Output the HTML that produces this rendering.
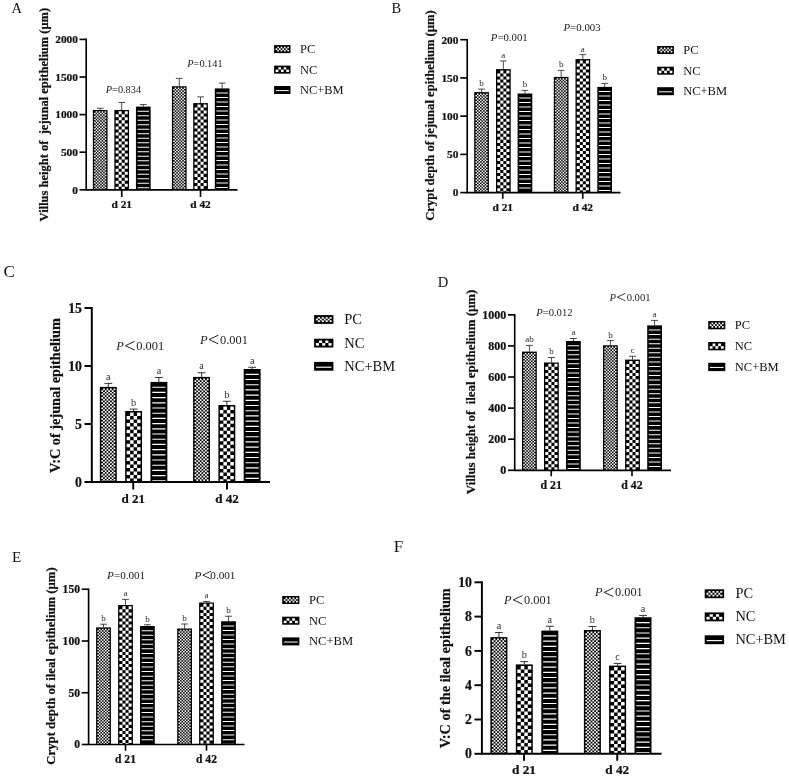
<!DOCTYPE html>
<html><head><meta charset="utf-8"><title>Figure</title>
<style>
html,body{margin:0;padding:0;background:#fff;}
body{width:789px;height:776px;overflow:hidden;font-family:"Liberation Serif",serif;}
svg text[font-weight=bold]{stroke:#111;stroke-width:0.22px;}
svg{display:block;will-change:transform;font-family:"Liberation Serif",serif;fill:#111;}
</style></head>
<body>
<svg width="789" height="776" viewBox="0 0 789 776">
<rect width="789" height="776" fill="#fff"/>
<g id="pA">
<text x="11.4" y="12.8" font-size="14.6">A</text>
<path d="M100.2 110V108.25M96.8 108.25H103.6" stroke="#222" stroke-width="0.8" fill="none"/>
<rect x="92.85" y="110" width="14.7" height="79.8" fill="#000"/><path d="M94.91 111.3V189.8" stroke="#fff" stroke-width="1.51" stroke-dasharray="1.51 1.51" stroke-dashoffset="1.51" fill="none"/><path d="M96.42 111.3V189.8" stroke="#fff" stroke-width="1.51" stroke-dasharray="1.51 1.51" stroke-dashoffset="0" fill="none"/><path d="M97.93 111.3V189.8" stroke="#fff" stroke-width="1.51" stroke-dasharray="1.51 1.51" stroke-dashoffset="1.51" fill="none"/><path d="M99.44 111.3V189.8" stroke="#fff" stroke-width="1.51" stroke-dasharray="1.51 1.51" stroke-dashoffset="0" fill="none"/><path d="M100.96 111.3V189.8" stroke="#fff" stroke-width="1.51" stroke-dasharray="1.51 1.51" stroke-dashoffset="1.51" fill="none"/><path d="M102.47 111.3V189.8" stroke="#fff" stroke-width="1.51" stroke-dasharray="1.51 1.51" stroke-dashoffset="0" fill="none"/><path d="M103.98 111.3V189.8" stroke="#fff" stroke-width="1.51" stroke-dasharray="1.51 1.51" stroke-dashoffset="1.51" fill="none"/><path d="M105.49 111.3V189.8" stroke="#fff" stroke-width="1.51" stroke-dasharray="1.51 1.51" stroke-dashoffset="0" fill="none"/>
<path d="M121.7 110V102.5M118.3 102.5H125.1" stroke="#222" stroke-width="0.8" fill="none"/>
<rect x="114.35" y="110" width="14.7" height="79.8" fill="#000"/><path d="M117.16 111.3V189.8" stroke="#fff" stroke-width="3.02" stroke-dasharray="3.02 3.02" stroke-dashoffset="3.02" fill="none"/><path d="M120.19 111.3V189.8" stroke="#fff" stroke-width="3.02" stroke-dasharray="3.02 3.02" stroke-dashoffset="0" fill="none"/><path d="M123.21 111.3V189.8" stroke="#fff" stroke-width="3.02" stroke-dasharray="3.02 3.02" stroke-dashoffset="3.02" fill="none"/><path d="M126.24 111.3V189.8" stroke="#fff" stroke-width="3.02" stroke-dasharray="3.02 3.02" stroke-dashoffset="0" fill="none"/>
<path d="M143.3 106.6V104.5M139.9 104.5H146.7" stroke="#222" stroke-width="0.8" fill="none"/>
<rect x="135.95" y="106.6" width="14.7" height="83.2" fill="#000"/><path d="M143.3 110.7V189.8" stroke="#fff" stroke-width="11.5" stroke-dasharray="1 3.5" stroke-dashoffset="0" fill="none"/>
<path d="M179.25 86.25V78.4M175.85 78.4H182.65" stroke="#222" stroke-width="0.8" fill="none"/>
<rect x="171.9" y="86.25" width="14.7" height="103.55" fill="#000"/><path d="M173.96 87.55V189.8" stroke="#fff" stroke-width="1.51" stroke-dasharray="1.51 1.51" stroke-dashoffset="1.51" fill="none"/><path d="M175.47 87.55V189.8" stroke="#fff" stroke-width="1.51" stroke-dasharray="1.51 1.51" stroke-dashoffset="0" fill="none"/><path d="M176.98 87.55V189.8" stroke="#fff" stroke-width="1.51" stroke-dasharray="1.51 1.51" stroke-dashoffset="1.51" fill="none"/><path d="M178.49 87.55V189.8" stroke="#fff" stroke-width="1.51" stroke-dasharray="1.51 1.51" stroke-dashoffset="0" fill="none"/><path d="M180.01 87.55V189.8" stroke="#fff" stroke-width="1.51" stroke-dasharray="1.51 1.51" stroke-dashoffset="1.51" fill="none"/><path d="M181.52 87.55V189.8" stroke="#fff" stroke-width="1.51" stroke-dasharray="1.51 1.51" stroke-dashoffset="0" fill="none"/><path d="M183.03 87.55V189.8" stroke="#fff" stroke-width="1.51" stroke-dasharray="1.51 1.51" stroke-dashoffset="1.51" fill="none"/><path d="M184.54 87.55V189.8" stroke="#fff" stroke-width="1.51" stroke-dasharray="1.51 1.51" stroke-dashoffset="0" fill="none"/>
<path d="M200.55 103.1V96.9M197.15 96.9H203.95" stroke="#222" stroke-width="0.8" fill="none"/>
<rect x="193.2" y="103.1" width="14.7" height="86.7" fill="#000"/><path d="M196.01 104.4V189.8" stroke="#fff" stroke-width="3.02" stroke-dasharray="3.02 3.02" stroke-dashoffset="3.02" fill="none"/><path d="M199.04 104.4V189.8" stroke="#fff" stroke-width="3.02" stroke-dasharray="3.02 3.02" stroke-dashoffset="0" fill="none"/><path d="M202.06 104.4V189.8" stroke="#fff" stroke-width="3.02" stroke-dasharray="3.02 3.02" stroke-dashoffset="3.02" fill="none"/><path d="M205.09 104.4V189.8" stroke="#fff" stroke-width="3.02" stroke-dasharray="3.02 3.02" stroke-dashoffset="0" fill="none"/>
<path d="M222.15 88.4V83.1M218.75 83.1H225.55" stroke="#222" stroke-width="0.8" fill="none"/>
<rect x="214.8" y="88.4" width="14.7" height="101.4" fill="#000"/><path d="M222.15 92.5V189.8" stroke="#fff" stroke-width="11.5" stroke-dasharray="1 3.5" stroke-dashoffset="0" fill="none"/>
<path d="M86.2 38.57V189.8H237.5" stroke="#000" stroke-width="1.65" fill="none"/>
<path d="M79.5 189.8H86.2" stroke="#000" stroke-width="1.65"/>
<text x="78" y="193.62" font-size="11.4" font-weight="bold" text-anchor="end">0</text>
<path d="M79.5 152.2H86.2" stroke="#000" stroke-width="1.65"/>
<text x="78" y="156.02" font-size="11.4" font-weight="bold" text-anchor="end">500</text>
<path d="M79.5 114.6H86.2" stroke="#000" stroke-width="1.65"/>
<text x="78" y="118.42" font-size="11.4" font-weight="bold" text-anchor="end">1000</text>
<path d="M79.5 77H86.2" stroke="#000" stroke-width="1.65"/>
<text x="78" y="80.82" font-size="11.4" font-weight="bold" text-anchor="end">1500</text>
<path d="M79.5 39.4H86.2" stroke="#000" stroke-width="1.65"/>
<text x="78" y="43.22" font-size="11.4" font-weight="bold" text-anchor="end">2000</text>
<path d="M121.75 189.8V197" stroke="#000" stroke-width="1.65"/>
<text x="121.75" y="208.3" font-size="11.4" font-weight="bold" text-anchor="middle">d 21</text>
<path d="M200.5 189.8V197" stroke="#000" stroke-width="1.65"/>
<text x="200.5" y="208.3" font-size="11.4" font-weight="bold" text-anchor="middle">d 42</text>
<text transform="translate(47.8 114.6) rotate(-90)" font-size="12.5" font-weight="bold" text-anchor="middle">Villus height of  jejunal epithelium (μm)</text>
<text x="105.8" y="92.8" font-size="10.3" fill="#222"><tspan font-style="italic">P</tspan>=0.834</text>
<text x="187.3" y="67.3" font-size="10.3" fill="#222"><tspan font-style="italic">P</tspan>=0.141</text>
<rect x="274.1" y="45.1" width="16.4" height="8" fill="#000"/><path d="M276.48 46.65V51.55" stroke="#fff" stroke-width="1.66" stroke-dasharray="1.63 1.63" stroke-dashoffset="1.63" fill="none"/><path d="M278.14 46.65V51.55" stroke="#fff" stroke-width="1.66" stroke-dasharray="1.63 1.63" stroke-dashoffset="0" fill="none"/><path d="M279.81 46.65V51.55" stroke="#fff" stroke-width="1.66" stroke-dasharray="1.63 1.63" stroke-dashoffset="1.63" fill="none"/><path d="M281.47 46.65V51.55" stroke="#fff" stroke-width="1.66" stroke-dasharray="1.63 1.63" stroke-dashoffset="0" fill="none"/><path d="M283.13 46.65V51.55" stroke="#fff" stroke-width="1.66" stroke-dasharray="1.63 1.63" stroke-dashoffset="1.63" fill="none"/><path d="M284.79 46.65V51.55" stroke="#fff" stroke-width="1.66" stroke-dasharray="1.63 1.63" stroke-dashoffset="0" fill="none"/><path d="M286.46 46.65V51.55" stroke="#fff" stroke-width="1.66" stroke-dasharray="1.63 1.63" stroke-dashoffset="1.63" fill="none"/><path d="M288.12 46.65V51.55" stroke="#fff" stroke-width="1.66" stroke-dasharray="1.63 1.63" stroke-dashoffset="0" fill="none"/>
<text x="300" y="53.1" font-size="12.4">PC</text>
<rect x="274.1" y="65.6" width="16.4" height="8" fill="#000"/><path d="M276.98 67.15V72.05" stroke="#fff" stroke-width="2.66" stroke-dasharray="2.45 2.45" stroke-dashoffset="2.45" fill="none"/><path d="M279.64 67.15V72.05" stroke="#fff" stroke-width="2.66" stroke-dasharray="2.45 2.45" stroke-dashoffset="0" fill="none"/><path d="M282.3 67.15V72.05" stroke="#fff" stroke-width="2.66" stroke-dasharray="2.45 2.45" stroke-dashoffset="2.45" fill="none"/><path d="M284.96 67.15V72.05" stroke="#fff" stroke-width="2.66" stroke-dasharray="2.45 2.45" stroke-dashoffset="0" fill="none"/><path d="M287.62 67.15V72.05" stroke="#fff" stroke-width="2.66" stroke-dasharray="2.45 2.45" stroke-dashoffset="2.45" fill="none"/>
<text x="300" y="73.5" font-size="12.4">NC</text>
<rect x="274.1" y="86" width="16.4" height="8" fill="#000"/><path d="M282.3 90.1V92.45" stroke="#fff" stroke-width="13" stroke-dasharray="1 3.5" stroke-dashoffset="0" fill="none"/>
<text x="300" y="93.6" font-size="12.4">NC+BM</text>
</g>
<g id="pB">
<text x="391.6" y="12.9" font-size="14.5">B</text>
<path d="M481.55 92.1V89.1M478.15 89.1H484.95" stroke="#222" stroke-width="0.8" fill="none"/>
<rect x="474.2" y="92.1" width="14.7" height="100.5" fill="#000"/><path d="M476.26 93.4V192.6" stroke="#fff" stroke-width="1.51" stroke-dasharray="1.51 1.51" stroke-dashoffset="1.51" fill="none"/><path d="M477.77 93.4V192.6" stroke="#fff" stroke-width="1.51" stroke-dasharray="1.51 1.51" stroke-dashoffset="0" fill="none"/><path d="M479.28 93.4V192.6" stroke="#fff" stroke-width="1.51" stroke-dasharray="1.51 1.51" stroke-dashoffset="1.51" fill="none"/><path d="M480.79 93.4V192.6" stroke="#fff" stroke-width="1.51" stroke-dasharray="1.51 1.51" stroke-dashoffset="0" fill="none"/><path d="M482.31 93.4V192.6" stroke="#fff" stroke-width="1.51" stroke-dasharray="1.51 1.51" stroke-dashoffset="1.51" fill="none"/><path d="M483.82 93.4V192.6" stroke="#fff" stroke-width="1.51" stroke-dasharray="1.51 1.51" stroke-dashoffset="0" fill="none"/><path d="M485.33 93.4V192.6" stroke="#fff" stroke-width="1.51" stroke-dasharray="1.51 1.51" stroke-dashoffset="1.51" fill="none"/><path d="M486.84 93.4V192.6" stroke="#fff" stroke-width="1.51" stroke-dasharray="1.51 1.51" stroke-dashoffset="0" fill="none"/>
<text x="481.55" y="86.1" font-size="9" text-anchor="middle" fill="#2a2a2a">b</text>
<path d="M503.35 69.1V61M499.95 61H506.75" stroke="#222" stroke-width="0.8" fill="none"/>
<rect x="496" y="69.1" width="14.7" height="123.5" fill="#000"/><path d="M498.81 70.4V192.6" stroke="#fff" stroke-width="3.02" stroke-dasharray="3.02 3.02" stroke-dashoffset="3.02" fill="none"/><path d="M501.84 70.4V192.6" stroke="#fff" stroke-width="3.02" stroke-dasharray="3.02 3.02" stroke-dashoffset="0" fill="none"/><path d="M504.86 70.4V192.6" stroke="#fff" stroke-width="3.02" stroke-dasharray="3.02 3.02" stroke-dashoffset="3.02" fill="none"/><path d="M507.89 70.4V192.6" stroke="#fff" stroke-width="3.02" stroke-dasharray="3.02 3.02" stroke-dashoffset="0" fill="none"/>
<text x="503.35" y="58" font-size="9" text-anchor="middle" fill="#2a2a2a">a</text>
<path d="M524.95 93.5V90.4M521.55 90.4H528.35" stroke="#222" stroke-width="0.8" fill="none"/>
<rect x="517.6" y="93.5" width="14.7" height="99.1" fill="#000"/><path d="M524.95 97.6V192.6" stroke="#fff" stroke-width="11.5" stroke-dasharray="1 3.5" stroke-dashoffset="0" fill="none"/>
<text x="524.95" y="87.4" font-size="9" text-anchor="middle" fill="#2a2a2a">b</text>
<path d="M561.15 76.9V70.4M557.75 70.4H564.55" stroke="#222" stroke-width="0.8" fill="none"/>
<rect x="553.8" y="76.9" width="14.7" height="115.7" fill="#000"/><path d="M555.86 78.2V192.6" stroke="#fff" stroke-width="1.51" stroke-dasharray="1.51 1.51" stroke-dashoffset="1.51" fill="none"/><path d="M557.37 78.2V192.6" stroke="#fff" stroke-width="1.51" stroke-dasharray="1.51 1.51" stroke-dashoffset="0" fill="none"/><path d="M558.88 78.2V192.6" stroke="#fff" stroke-width="1.51" stroke-dasharray="1.51 1.51" stroke-dashoffset="1.51" fill="none"/><path d="M560.39 78.2V192.6" stroke="#fff" stroke-width="1.51" stroke-dasharray="1.51 1.51" stroke-dashoffset="0" fill="none"/><path d="M561.91 78.2V192.6" stroke="#fff" stroke-width="1.51" stroke-dasharray="1.51 1.51" stroke-dashoffset="1.51" fill="none"/><path d="M563.42 78.2V192.6" stroke="#fff" stroke-width="1.51" stroke-dasharray="1.51 1.51" stroke-dashoffset="0" fill="none"/><path d="M564.93 78.2V192.6" stroke="#fff" stroke-width="1.51" stroke-dasharray="1.51 1.51" stroke-dashoffset="1.51" fill="none"/><path d="M566.44 78.2V192.6" stroke="#fff" stroke-width="1.51" stroke-dasharray="1.51 1.51" stroke-dashoffset="0" fill="none"/>
<text x="561.15" y="67.4" font-size="9" text-anchor="middle" fill="#2a2a2a">b</text>
<path d="M582.85 59.1V54.6M579.45 54.6H586.25" stroke="#222" stroke-width="0.8" fill="none"/>
<rect x="575.5" y="59.1" width="14.7" height="133.5" fill="#000"/><path d="M578.31 60.4V192.6" stroke="#fff" stroke-width="3.02" stroke-dasharray="3.02 3.02" stroke-dashoffset="3.02" fill="none"/><path d="M581.34 60.4V192.6" stroke="#fff" stroke-width="3.02" stroke-dasharray="3.02 3.02" stroke-dashoffset="0" fill="none"/><path d="M584.36 60.4V192.6" stroke="#fff" stroke-width="3.02" stroke-dasharray="3.02 3.02" stroke-dashoffset="3.02" fill="none"/><path d="M587.39 60.4V192.6" stroke="#fff" stroke-width="3.02" stroke-dasharray="3.02 3.02" stroke-dashoffset="0" fill="none"/>
<text x="582.85" y="51.6" font-size="9" text-anchor="middle" fill="#2a2a2a">a</text>
<path d="M604.65 86.9V83.4M601.25 83.4H608.05" stroke="#222" stroke-width="0.8" fill="none"/>
<rect x="597.3" y="86.9" width="14.7" height="105.7" fill="#000"/><path d="M604.65 91V192.6" stroke="#fff" stroke-width="11.5" stroke-dasharray="1 3.5" stroke-dashoffset="0" fill="none"/>
<text x="604.65" y="80.4" font-size="9" text-anchor="middle" fill="#2a2a2a">b</text>
<path d="M467.2 38.88V192.6H620.5" stroke="#000" stroke-width="1.65" fill="none"/>
<path d="M460.25 192.6H467.2" stroke="#000" stroke-width="1.65"/>
<text x="458.5" y="196.42" font-size="11.4" font-weight="bold" text-anchor="end">0</text>
<path d="M460.25 154.38H467.2" stroke="#000" stroke-width="1.65"/>
<text x="458.5" y="158.19" font-size="11.4" font-weight="bold" text-anchor="end">50</text>
<path d="M460.25 116.15H467.2" stroke="#000" stroke-width="1.65"/>
<text x="458.5" y="119.97" font-size="11.4" font-weight="bold" text-anchor="end">100</text>
<path d="M460.25 77.93H467.2" stroke="#000" stroke-width="1.65"/>
<text x="458.5" y="81.74" font-size="11.4" font-weight="bold" text-anchor="end">150</text>
<path d="M460.25 39.7H467.2" stroke="#000" stroke-width="1.65"/>
<text x="458.5" y="43.52" font-size="11.4" font-weight="bold" text-anchor="end">200</text>
<path d="M502.75 192.6V198.75" stroke="#000" stroke-width="1.65"/>
<text x="502.75" y="210.6" font-size="11.4" font-weight="bold" text-anchor="middle">d 21</text>
<path d="M582.75 192.6V198.75" stroke="#000" stroke-width="1.65"/>
<text x="582.75" y="210.6" font-size="11.4" font-weight="bold" text-anchor="middle">d 42</text>
<text transform="translate(433.6 115.6) rotate(-90)" font-size="12.6" font-weight="bold" text-anchor="middle">Crypt depth of jejunal epithelium (μm)</text>
<text x="490.8" y="41.2" font-size="10.75" fill="#222"><tspan font-style="italic">P</tspan>=0.001</text>
<text x="563.6" y="31.2" font-size="10.8" fill="#222"><tspan font-style="italic">P</tspan>=0.003</text>
<rect x="657.2" y="46" width="16.7" height="8" fill="#000"/><path d="M659.6 47.55V52.45" stroke="#fff" stroke-width="1.7" stroke-dasharray="1.63 1.63" stroke-dashoffset="1.63" fill="none"/><path d="M661.3 47.55V52.45" stroke="#fff" stroke-width="1.7" stroke-dasharray="1.63 1.63" stroke-dashoffset="0" fill="none"/><path d="M663 47.55V52.45" stroke="#fff" stroke-width="1.7" stroke-dasharray="1.63 1.63" stroke-dashoffset="1.63" fill="none"/><path d="M664.7 47.55V52.45" stroke="#fff" stroke-width="1.7" stroke-dasharray="1.63 1.63" stroke-dashoffset="0" fill="none"/><path d="M666.4 47.55V52.45" stroke="#fff" stroke-width="1.7" stroke-dasharray="1.63 1.63" stroke-dashoffset="1.63" fill="none"/><path d="M668.1 47.55V52.45" stroke="#fff" stroke-width="1.7" stroke-dasharray="1.63 1.63" stroke-dashoffset="0" fill="none"/><path d="M669.8 47.55V52.45" stroke="#fff" stroke-width="1.7" stroke-dasharray="1.63 1.63" stroke-dashoffset="1.63" fill="none"/><path d="M671.5 47.55V52.45" stroke="#fff" stroke-width="1.7" stroke-dasharray="1.63 1.63" stroke-dashoffset="0" fill="none"/>
<text x="683.2" y="54" font-size="12.5">PC</text>
<rect x="657.2" y="66.7" width="16.7" height="8" fill="#000"/><path d="M660.11 68.25V73.15" stroke="#fff" stroke-width="2.72" stroke-dasharray="2.45 2.45" stroke-dashoffset="2.45" fill="none"/><path d="M662.83 68.25V73.15" stroke="#fff" stroke-width="2.72" stroke-dasharray="2.45 2.45" stroke-dashoffset="0" fill="none"/><path d="M665.55 68.25V73.15" stroke="#fff" stroke-width="2.72" stroke-dasharray="2.45 2.45" stroke-dashoffset="2.45" fill="none"/><path d="M668.27 68.25V73.15" stroke="#fff" stroke-width="2.72" stroke-dasharray="2.45 2.45" stroke-dashoffset="0" fill="none"/><path d="M670.99 68.25V73.15" stroke="#fff" stroke-width="2.72" stroke-dasharray="2.45 2.45" stroke-dashoffset="2.45" fill="none"/>
<text x="683.2" y="74.8" font-size="12.5">NC</text>
<rect x="657.2" y="87.2" width="16.7" height="8" fill="#000"/><path d="M665.55 91.3V93.65" stroke="#fff" stroke-width="13.3" stroke-dasharray="1 3.5" stroke-dashoffset="0" fill="none"/>
<text x="683.2" y="94.9" font-size="12.5">NC+BM</text>
</g>
<g id="pC">
<text x="3.5" y="276.7" font-size="17.2">C</text>
<path d="M108.3 386.9V383.4M104.37 383.4H112.23" stroke="#222" stroke-width="0.92" fill="none"/>
<rect x="99.85" y="386.9" width="16.9" height="95.1" fill="#000"/><path d="M102.22 388.4V482" stroke="#fff" stroke-width="1.74" stroke-dasharray="1.74 1.74" stroke-dashoffset="1.74" fill="none"/><path d="M103.96 388.4V482" stroke="#fff" stroke-width="1.74" stroke-dasharray="1.74 1.74" stroke-dashoffset="0" fill="none"/><path d="M105.69 388.4V482" stroke="#fff" stroke-width="1.74" stroke-dasharray="1.74 1.74" stroke-dashoffset="1.74" fill="none"/><path d="M107.43 388.4V482" stroke="#fff" stroke-width="1.74" stroke-dasharray="1.74 1.74" stroke-dashoffset="0" fill="none"/><path d="M109.17 388.4V482" stroke="#fff" stroke-width="1.74" stroke-dasharray="1.74 1.74" stroke-dashoffset="1.74" fill="none"/><path d="M110.91 388.4V482" stroke="#fff" stroke-width="1.74" stroke-dasharray="1.74 1.74" stroke-dashoffset="0" fill="none"/><path d="M112.64 388.4V482" stroke="#fff" stroke-width="1.74" stroke-dasharray="1.74 1.74" stroke-dashoffset="1.74" fill="none"/><path d="M114.38 388.4V482" stroke="#fff" stroke-width="1.74" stroke-dasharray="1.74 1.74" stroke-dashoffset="0" fill="none"/>
<text x="108.3" y="379.94" font-size="10.2" text-anchor="middle" fill="#2a2a2a">a</text>
<path d="M133.6 411V409.1M129.67 409.1H137.53" stroke="#222" stroke-width="0.92" fill="none"/>
<rect x="125.15" y="411" width="16.9" height="71" fill="#000"/><path d="M128.39 412.5V482" stroke="#fff" stroke-width="3.47" stroke-dasharray="3.47 3.47" stroke-dashoffset="3.47" fill="none"/><path d="M131.86 412.5V482" stroke="#fff" stroke-width="3.47" stroke-dasharray="3.47 3.47" stroke-dashoffset="0" fill="none"/><path d="M135.34 412.5V482" stroke="#fff" stroke-width="3.47" stroke-dasharray="3.47 3.47" stroke-dashoffset="3.47" fill="none"/><path d="M138.81 412.5V482" stroke="#fff" stroke-width="3.47" stroke-dasharray="3.47 3.47" stroke-dashoffset="0" fill="none"/>
<text x="133.6" y="405.64" font-size="10.2" text-anchor="middle" fill="#2a2a2a">b</text>
<path d="M158.9 381.9V377.5M154.97 377.5H162.83" stroke="#222" stroke-width="0.92" fill="none"/>
<rect x="150.45" y="381.9" width="16.9" height="100.1" fill="#000"/><path d="M158.9 386.64V482" stroke="#fff" stroke-width="13.2" stroke-dasharray="1.16 4.04" stroke-dashoffset="0" fill="none"/>
<text x="158.9" y="374.04" font-size="10.2" text-anchor="middle" fill="#2a2a2a">a</text>
<path d="M201.55 376.9V372.75M197.62 372.75H205.48" stroke="#222" stroke-width="0.92" fill="none"/>
<rect x="193.1" y="376.9" width="16.9" height="105.1" fill="#000"/><path d="M195.47 378.4V482" stroke="#fff" stroke-width="1.74" stroke-dasharray="1.74 1.74" stroke-dashoffset="1.74" fill="none"/><path d="M197.21 378.4V482" stroke="#fff" stroke-width="1.74" stroke-dasharray="1.74 1.74" stroke-dashoffset="0" fill="none"/><path d="M198.94 378.4V482" stroke="#fff" stroke-width="1.74" stroke-dasharray="1.74 1.74" stroke-dashoffset="1.74" fill="none"/><path d="M200.68 378.4V482" stroke="#fff" stroke-width="1.74" stroke-dasharray="1.74 1.74" stroke-dashoffset="0" fill="none"/><path d="M202.42 378.4V482" stroke="#fff" stroke-width="1.74" stroke-dasharray="1.74 1.74" stroke-dashoffset="1.74" fill="none"/><path d="M204.16 378.4V482" stroke="#fff" stroke-width="1.74" stroke-dasharray="1.74 1.74" stroke-dashoffset="0" fill="none"/><path d="M205.89 378.4V482" stroke="#fff" stroke-width="1.74" stroke-dasharray="1.74 1.74" stroke-dashoffset="1.74" fill="none"/><path d="M207.63 378.4V482" stroke="#fff" stroke-width="1.74" stroke-dasharray="1.74 1.74" stroke-dashoffset="0" fill="none"/>
<text x="201.55" y="369.29" font-size="10.2" text-anchor="middle" fill="#2a2a2a">a</text>
<path d="M226.85 405V401.25M222.92 401.25H230.78" stroke="#222" stroke-width="0.92" fill="none"/>
<rect x="218.4" y="405" width="16.9" height="77" fill="#000"/><path d="M221.64 406.5V482" stroke="#fff" stroke-width="3.47" stroke-dasharray="3.47 3.47" stroke-dashoffset="3.47" fill="none"/><path d="M225.11 406.5V482" stroke="#fff" stroke-width="3.47" stroke-dasharray="3.47 3.47" stroke-dashoffset="0" fill="none"/><path d="M228.59 406.5V482" stroke="#fff" stroke-width="3.47" stroke-dasharray="3.47 3.47" stroke-dashoffset="3.47" fill="none"/><path d="M232.06 406.5V482" stroke="#fff" stroke-width="3.47" stroke-dasharray="3.47 3.47" stroke-dashoffset="0" fill="none"/>
<text x="226.85" y="397.79" font-size="10.2" text-anchor="middle" fill="#2a2a2a">b</text>
<path d="M252.15 369V367.25M248.22 367.25H256.08" stroke="#222" stroke-width="0.92" fill="none"/>
<rect x="243.7" y="369" width="16.9" height="113" fill="#000"/><path d="M252.15 373.74V482" stroke="#fff" stroke-width="13.2" stroke-dasharray="1.16 4.04" stroke-dashoffset="0" fill="none"/>
<text x="252.15" y="363.79" font-size="10.2" text-anchor="middle" fill="#2a2a2a">a</text>
<path d="M91.8 307.02V482H270" stroke="#000" stroke-width="1.95" fill="none"/>
<path d="M84.5 482H91.8" stroke="#000" stroke-width="1.95"/>
<text x="82" y="486.62" font-size="13.8" font-weight="bold" text-anchor="end">0</text>
<path d="M84.5 424H91.8" stroke="#000" stroke-width="1.95"/>
<text x="82" y="428.62" font-size="13.8" font-weight="bold" text-anchor="end">5</text>
<path d="M84.5 366H91.8" stroke="#000" stroke-width="1.95"/>
<text x="82" y="370.62" font-size="13.8" font-weight="bold" text-anchor="end">10</text>
<path d="M84.5 308H91.8" stroke="#000" stroke-width="1.95"/>
<text x="82" y="312.62" font-size="13.8" font-weight="bold" text-anchor="end">15</text>
<path d="M133.25 482V489.5" stroke="#000" stroke-width="1.95"/>
<text x="133.25" y="503" font-size="13.1" font-weight="bold" text-anchor="middle">d 21</text>
<path d="M227 482V489.5" stroke="#000" stroke-width="1.95"/>
<text x="227" y="503" font-size="13.1" font-weight="bold" text-anchor="middle">d 42</text>
<text transform="translate(59.5 395.5) rotate(-90)" font-size="14.3" font-weight="bold" text-anchor="middle">V:C of jejunal epithelium</text>
<text x="116.2" y="349.8" font-size="12.4" font-style="italic" fill="#222">P</text>
<path d="M134.68 341.37L125.38 345.71L134.68 350.05" fill="none" stroke="#111" stroke-width="0.93" stroke-linejoin="miter"/>
<text x="136.29" y="349.8" font-size="12.4" fill="#222">0.001</text>
<text x="199.9" y="343.6" font-size="12.4" font-style="italic" fill="#222">P</text>
<path d="M218.38 335.17L209.08 339.51L218.38 343.85" fill="none" stroke="#111" stroke-width="0.93" stroke-linejoin="miter"/>
<text x="219.99" y="343.6" font-size="12.4" fill="#222">0.001</text>
<rect x="314.1" y="315.1" width="19.3" height="8.8" fill="#000"/><path d="M316.87 316.89V322.11" stroke="#fff" stroke-width="1.96" stroke-dasharray="1.74 1.74" stroke-dashoffset="1.74" fill="none"/><path d="M318.84 316.89V322.11" stroke="#fff" stroke-width="1.96" stroke-dasharray="1.74 1.74" stroke-dashoffset="0" fill="none"/><path d="M320.8 316.89V322.11" stroke="#fff" stroke-width="1.96" stroke-dasharray="1.74 1.74" stroke-dashoffset="1.74" fill="none"/><path d="M322.77 316.89V322.11" stroke="#fff" stroke-width="1.96" stroke-dasharray="1.74 1.74" stroke-dashoffset="0" fill="none"/><path d="M324.73 316.89V322.11" stroke="#fff" stroke-width="1.96" stroke-dasharray="1.74 1.74" stroke-dashoffset="1.74" fill="none"/><path d="M326.7 316.89V322.11" stroke="#fff" stroke-width="1.96" stroke-dasharray="1.74 1.74" stroke-dashoffset="0" fill="none"/><path d="M328.66 316.89V322.11" stroke="#fff" stroke-width="1.96" stroke-dasharray="1.74 1.74" stroke-dashoffset="1.74" fill="none"/><path d="M330.63 316.89V322.11" stroke="#fff" stroke-width="1.96" stroke-dasharray="1.74 1.74" stroke-dashoffset="0" fill="none"/>
<text x="344.3" y="323.9" font-size="14.5">PC</text>
<rect x="314.1" y="338.7" width="19.3" height="8.8" fill="#000"/><path d="M317.46 340.49V345.71" stroke="#fff" stroke-width="3.14" stroke-dasharray="2.61 2.61" stroke-dashoffset="2.61" fill="none"/><path d="M320.61 340.49V345.71" stroke="#fff" stroke-width="3.14" stroke-dasharray="2.61 2.61" stroke-dashoffset="0" fill="none"/><path d="M323.75 340.49V345.71" stroke="#fff" stroke-width="3.14" stroke-dasharray="2.61 2.61" stroke-dashoffset="2.61" fill="none"/><path d="M326.89 340.49V345.71" stroke="#fff" stroke-width="3.14" stroke-dasharray="2.61 2.61" stroke-dashoffset="0" fill="none"/><path d="M330.04 340.49V345.71" stroke="#fff" stroke-width="3.14" stroke-dasharray="2.61 2.61" stroke-dashoffset="2.61" fill="none"/>
<text x="344.3" y="347.5" font-size="14.5">NC</text>
<rect x="314.1" y="361.9" width="19.3" height="8.8" fill="#000"/><path d="M323.75 366.64V368.91" stroke="#fff" stroke-width="15.37" stroke-dasharray="1.16 4.04" stroke-dashoffset="0" fill="none"/>
<text x="344.3" y="370.6" font-size="14.5">NC+BM</text>
</g>
<g id="pD">
<text x="437.8" y="286.7" font-size="14.6">D</text>
<path d="M529.4 351.6V345.4M525.97 345.4H532.83" stroke="#222" stroke-width="0.81" fill="none"/>
<rect x="522" y="351.6" width="14.8" height="118.7" fill="#000"/><path d="M524.07 352.91V470.3" stroke="#fff" stroke-width="1.52" stroke-dasharray="1.52 1.52" stroke-dashoffset="1.52" fill="none"/><path d="M525.6 352.91V470.3" stroke="#fff" stroke-width="1.52" stroke-dasharray="1.52 1.52" stroke-dashoffset="0" fill="none"/><path d="M527.12 352.91V470.3" stroke="#fff" stroke-width="1.52" stroke-dasharray="1.52 1.52" stroke-dashoffset="1.52" fill="none"/><path d="M528.64 352.91V470.3" stroke="#fff" stroke-width="1.52" stroke-dasharray="1.52 1.52" stroke-dashoffset="0" fill="none"/><path d="M530.16 352.91V470.3" stroke="#fff" stroke-width="1.52" stroke-dasharray="1.52 1.52" stroke-dashoffset="1.52" fill="none"/><path d="M531.68 352.91V470.3" stroke="#fff" stroke-width="1.52" stroke-dasharray="1.52 1.52" stroke-dashoffset="0" fill="none"/><path d="M533.2 352.91V470.3" stroke="#fff" stroke-width="1.52" stroke-dasharray="1.52 1.52" stroke-dashoffset="1.52" fill="none"/><path d="M534.73 352.91V470.3" stroke="#fff" stroke-width="1.52" stroke-dasharray="1.52 1.52" stroke-dashoffset="0" fill="none"/>
<text x="529.4" y="342.37" font-size="9" text-anchor="middle" fill="#2a2a2a">ab</text>
<path d="M551.4 362.5V357.5M547.97 357.5H554.83" stroke="#222" stroke-width="0.81" fill="none"/>
<rect x="544" y="362.5" width="14.8" height="107.8" fill="#000"/><path d="M546.83 363.81V470.3" stroke="#fff" stroke-width="3.04" stroke-dasharray="3.04 3.04" stroke-dashoffset="3.04" fill="none"/><path d="M549.88 363.81V470.3" stroke="#fff" stroke-width="3.04" stroke-dasharray="3.04 3.04" stroke-dashoffset="0" fill="none"/><path d="M552.92 363.81V470.3" stroke="#fff" stroke-width="3.04" stroke-dasharray="3.04 3.04" stroke-dashoffset="3.04" fill="none"/><path d="M555.97 363.81V470.3" stroke="#fff" stroke-width="3.04" stroke-dasharray="3.04 3.04" stroke-dashoffset="0" fill="none"/>
<text x="551.4" y="354.47" font-size="9" text-anchor="middle" fill="#2a2a2a">b</text>
<path d="M573.4 341V338.5M569.97 338.5H576.83" stroke="#222" stroke-width="0.81" fill="none"/>
<rect x="566" y="341" width="14.8" height="129.3" fill="#000"/><path d="M573.4 345.14V470.3" stroke="#fff" stroke-width="11.57" stroke-dasharray="1.01 3.54" stroke-dashoffset="0" fill="none"/>
<text x="573.4" y="335.47" font-size="9" text-anchor="middle" fill="#2a2a2a">a</text>
<path d="M610.4 345.25V340.6M606.97 340.6H613.83" stroke="#222" stroke-width="0.81" fill="none"/>
<rect x="603" y="345.25" width="14.8" height="125.05" fill="#000"/><path d="M605.07 346.56V470.3" stroke="#fff" stroke-width="1.52" stroke-dasharray="1.52 1.52" stroke-dashoffset="1.52" fill="none"/><path d="M606.6 346.56V470.3" stroke="#fff" stroke-width="1.52" stroke-dasharray="1.52 1.52" stroke-dashoffset="0" fill="none"/><path d="M608.12 346.56V470.3" stroke="#fff" stroke-width="1.52" stroke-dasharray="1.52 1.52" stroke-dashoffset="1.52" fill="none"/><path d="M609.64 346.56V470.3" stroke="#fff" stroke-width="1.52" stroke-dasharray="1.52 1.52" stroke-dashoffset="0" fill="none"/><path d="M611.16 346.56V470.3" stroke="#fff" stroke-width="1.52" stroke-dasharray="1.52 1.52" stroke-dashoffset="1.52" fill="none"/><path d="M612.68 346.56V470.3" stroke="#fff" stroke-width="1.52" stroke-dasharray="1.52 1.52" stroke-dashoffset="0" fill="none"/><path d="M614.2 346.56V470.3" stroke="#fff" stroke-width="1.52" stroke-dasharray="1.52 1.52" stroke-dashoffset="1.52" fill="none"/><path d="M615.73 346.56V470.3" stroke="#fff" stroke-width="1.52" stroke-dasharray="1.52 1.52" stroke-dashoffset="0" fill="none"/>
<text x="610.4" y="337.57" font-size="9" text-anchor="middle" fill="#2a2a2a">b</text>
<path d="M632.5 359.6V356.25M629.07 356.25H635.93" stroke="#222" stroke-width="0.81" fill="none"/>
<rect x="625.1" y="359.6" width="14.8" height="110.7" fill="#000"/><path d="M627.93 360.91V470.3" stroke="#fff" stroke-width="3.04" stroke-dasharray="3.04 3.04" stroke-dashoffset="3.04" fill="none"/><path d="M630.98 360.91V470.3" stroke="#fff" stroke-width="3.04" stroke-dasharray="3.04 3.04" stroke-dashoffset="0" fill="none"/><path d="M634.02 360.91V470.3" stroke="#fff" stroke-width="3.04" stroke-dasharray="3.04 3.04" stroke-dashoffset="3.04" fill="none"/><path d="M637.07 360.91V470.3" stroke="#fff" stroke-width="3.04" stroke-dasharray="3.04 3.04" stroke-dashoffset="0" fill="none"/>
<text x="632.5" y="353.22" font-size="9" text-anchor="middle" fill="#2a2a2a">c</text>
<path d="M654.6 325.4V320.4M651.17 320.4H658.03" stroke="#222" stroke-width="0.81" fill="none"/>
<rect x="647.2" y="325.4" width="14.8" height="144.9" fill="#000"/><path d="M654.6 329.54V470.3" stroke="#fff" stroke-width="11.57" stroke-dasharray="1.01 3.54" stroke-dashoffset="0" fill="none"/>
<text x="654.6" y="317.37" font-size="9" text-anchor="middle" fill="#2a2a2a">a</text>
<path d="M514.7 314.03V470.3H671" stroke="#000" stroke-width="1.65" fill="none"/>
<path d="M508 470.3H514.7" stroke="#000" stroke-width="1.65"/>
<text x="506.25" y="474.32" font-size="12" font-weight="bold" text-anchor="end">0</text>
<path d="M508 439.21H514.7" stroke="#000" stroke-width="1.65"/>
<text x="506.25" y="443.23" font-size="12" font-weight="bold" text-anchor="end">200</text>
<path d="M508 408.12H514.7" stroke="#000" stroke-width="1.65"/>
<text x="506.25" y="412.14" font-size="12" font-weight="bold" text-anchor="end">400</text>
<path d="M508 377.03H514.7" stroke="#000" stroke-width="1.65"/>
<text x="506.25" y="381.05" font-size="12" font-weight="bold" text-anchor="end">600</text>
<path d="M508 345.94H514.7" stroke="#000" stroke-width="1.65"/>
<text x="506.25" y="349.96" font-size="12" font-weight="bold" text-anchor="end">800</text>
<path d="M508 314.85H514.7" stroke="#000" stroke-width="1.65"/>
<text x="506.25" y="318.87" font-size="12" font-weight="bold" text-anchor="end">1000</text>
<path d="M551.25 470.3V476.25" stroke="#000" stroke-width="1.65"/>
<text x="551.25" y="488.8" font-size="11.8" font-weight="bold" text-anchor="middle">d 21</text>
<path d="M632 470.3V476.25" stroke="#000" stroke-width="1.65"/>
<text x="632" y="488.8" font-size="11.8" font-weight="bold" text-anchor="middle">d 42</text>
<text transform="translate(475 391.9) rotate(-90)" font-size="12.9" font-weight="bold" text-anchor="middle">Villus height of  ileal epithelium (μm)</text>
<text x="536.2" y="315.6" font-size="10.6" fill="#222"><tspan font-style="italic">P</tspan>=0.012</text>
<text x="609.5" y="300.6" font-size="10.6" font-style="italic" fill="#222">P</text>
<path d="M625.29 293.39L617.34 297.1L625.29 300.81" fill="none" stroke="#111" stroke-width="0.79" stroke-linejoin="miter"/>
<text x="626.67" y="300.6" font-size="10.6" fill="#222">0.001</text>
<rect x="708.2" y="321" width="17.1" height="8.3" fill="#000"/><path d="M710.64 322.57V327.73" stroke="#fff" stroke-width="1.75" stroke-dasharray="1.72 1.72" stroke-dashoffset="1.72" fill="none"/><path d="M712.38 322.57V327.73" stroke="#fff" stroke-width="1.75" stroke-dasharray="1.72 1.72" stroke-dashoffset="0" fill="none"/><path d="M714.13 322.57V327.73" stroke="#fff" stroke-width="1.75" stroke-dasharray="1.72 1.72" stroke-dashoffset="1.72" fill="none"/><path d="M715.88 322.57V327.73" stroke="#fff" stroke-width="1.75" stroke-dasharray="1.72 1.72" stroke-dashoffset="0" fill="none"/><path d="M717.62 322.57V327.73" stroke="#fff" stroke-width="1.75" stroke-dasharray="1.72 1.72" stroke-dashoffset="1.72" fill="none"/><path d="M719.37 322.57V327.73" stroke="#fff" stroke-width="1.75" stroke-dasharray="1.72 1.72" stroke-dashoffset="0" fill="none"/><path d="M721.12 322.57V327.73" stroke="#fff" stroke-width="1.75" stroke-dasharray="1.72 1.72" stroke-dashoffset="1.72" fill="none"/><path d="M722.86 322.57V327.73" stroke="#fff" stroke-width="1.75" stroke-dasharray="1.72 1.72" stroke-dashoffset="0" fill="none"/>
<text x="734.8" y="329.3" font-size="12.5">PC</text>
<rect x="708.2" y="342" width="17.1" height="8.3" fill="#000"/><path d="M711.16 343.57V348.73" stroke="#fff" stroke-width="2.79" stroke-dasharray="2.58 2.58" stroke-dashoffset="2.58" fill="none"/><path d="M713.96 343.57V348.73" stroke="#fff" stroke-width="2.79" stroke-dasharray="2.58 2.58" stroke-dashoffset="0" fill="none"/><path d="M716.75 343.57V348.73" stroke="#fff" stroke-width="2.79" stroke-dasharray="2.58 2.58" stroke-dashoffset="2.58" fill="none"/><path d="M719.54 343.57V348.73" stroke="#fff" stroke-width="2.79" stroke-dasharray="2.58 2.58" stroke-dashoffset="0" fill="none"/><path d="M722.34 343.57V348.73" stroke="#fff" stroke-width="2.79" stroke-dasharray="2.58 2.58" stroke-dashoffset="2.58" fill="none"/>
<text x="734.8" y="350.1" font-size="12.5">NC</text>
<rect x="708.2" y="362.8" width="17.1" height="8.3" fill="#000"/><path d="M716.75 366.94V369.53" stroke="#fff" stroke-width="13.67" stroke-dasharray="1.01 3.54" stroke-dashoffset="0" fill="none"/>
<text x="734.8" y="370.8" font-size="12.5">NC+BM</text>
</g>
<g id="pE">
<text x="12.1" y="561.7" font-size="15.2">E</text>
<path d="M103.5 627.4V624.2M100.07 624.2H106.93" stroke="#222" stroke-width="0.81" fill="none"/>
<rect x="96.1" y="627.4" width="14.8" height="117.1" fill="#000"/><path d="M98.17 628.71V744.5" stroke="#fff" stroke-width="1.52" stroke-dasharray="1.52 1.52" stroke-dashoffset="1.52" fill="none"/><path d="M99.7 628.71V744.5" stroke="#fff" stroke-width="1.52" stroke-dasharray="1.52 1.52" stroke-dashoffset="0" fill="none"/><path d="M101.22 628.71V744.5" stroke="#fff" stroke-width="1.52" stroke-dasharray="1.52 1.52" stroke-dashoffset="1.52" fill="none"/><path d="M102.74 628.71V744.5" stroke="#fff" stroke-width="1.52" stroke-dasharray="1.52 1.52" stroke-dashoffset="0" fill="none"/><path d="M104.26 628.71V744.5" stroke="#fff" stroke-width="1.52" stroke-dasharray="1.52 1.52" stroke-dashoffset="1.52" fill="none"/><path d="M105.78 628.71V744.5" stroke="#fff" stroke-width="1.52" stroke-dasharray="1.52 1.52" stroke-dashoffset="0" fill="none"/><path d="M107.3 628.71V744.5" stroke="#fff" stroke-width="1.52" stroke-dasharray="1.52 1.52" stroke-dashoffset="1.52" fill="none"/><path d="M108.83 628.71V744.5" stroke="#fff" stroke-width="1.52" stroke-dasharray="1.52 1.52" stroke-dashoffset="0" fill="none"/>
<text x="103.5" y="621.17" font-size="9" text-anchor="middle" fill="#2a2a2a">b</text>
<path d="M125.5 605V599.4M122.07 599.4H128.93" stroke="#222" stroke-width="0.81" fill="none"/>
<rect x="118.1" y="605" width="14.8" height="139.5" fill="#000"/><path d="M120.93 606.31V744.5" stroke="#fff" stroke-width="3.04" stroke-dasharray="3.04 3.04" stroke-dashoffset="3.04" fill="none"/><path d="M123.98 606.31V744.5" stroke="#fff" stroke-width="3.04" stroke-dasharray="3.04 3.04" stroke-dashoffset="0" fill="none"/><path d="M127.02 606.31V744.5" stroke="#fff" stroke-width="3.04" stroke-dasharray="3.04 3.04" stroke-dashoffset="3.04" fill="none"/><path d="M130.07 606.31V744.5" stroke="#fff" stroke-width="3.04" stroke-dasharray="3.04 3.04" stroke-dashoffset="0" fill="none"/>
<text x="125.5" y="596.37" font-size="9" text-anchor="middle" fill="#2a2a2a">a</text>
<path d="M147.4 626V624.75M143.97 624.75H150.83" stroke="#222" stroke-width="0.81" fill="none"/>
<rect x="140" y="626" width="14.8" height="118.5" fill="#000"/><path d="M147.4 630.14V744.5" stroke="#fff" stroke-width="11.57" stroke-dasharray="1.01 3.54" stroke-dashoffset="0" fill="none"/>
<text x="147.4" y="621.72" font-size="9" text-anchor="middle" fill="#2a2a2a">b</text>
<path d="M184.6 628.5V624M181.17 624H188.03" stroke="#222" stroke-width="0.81" fill="none"/>
<rect x="177.2" y="628.5" width="14.8" height="116" fill="#000"/><path d="M179.27 629.81V744.5" stroke="#fff" stroke-width="1.52" stroke-dasharray="1.52 1.52" stroke-dashoffset="1.52" fill="none"/><path d="M180.8 629.81V744.5" stroke="#fff" stroke-width="1.52" stroke-dasharray="1.52 1.52" stroke-dashoffset="0" fill="none"/><path d="M182.32 629.81V744.5" stroke="#fff" stroke-width="1.52" stroke-dasharray="1.52 1.52" stroke-dashoffset="1.52" fill="none"/><path d="M183.84 629.81V744.5" stroke="#fff" stroke-width="1.52" stroke-dasharray="1.52 1.52" stroke-dashoffset="0" fill="none"/><path d="M185.36 629.81V744.5" stroke="#fff" stroke-width="1.52" stroke-dasharray="1.52 1.52" stroke-dashoffset="1.52" fill="none"/><path d="M186.88 629.81V744.5" stroke="#fff" stroke-width="1.52" stroke-dasharray="1.52 1.52" stroke-dashoffset="0" fill="none"/><path d="M188.4 629.81V744.5" stroke="#fff" stroke-width="1.52" stroke-dasharray="1.52 1.52" stroke-dashoffset="1.52" fill="none"/><path d="M189.93 629.81V744.5" stroke="#fff" stroke-width="1.52" stroke-dasharray="1.52 1.52" stroke-dashoffset="0" fill="none"/>
<text x="184.6" y="620.97" font-size="9" text-anchor="middle" fill="#2a2a2a">b</text>
<path d="M206.5 602.5V601.5M203.07 601.5H209.93" stroke="#222" stroke-width="0.81" fill="none"/>
<rect x="199.1" y="602.5" width="14.8" height="142" fill="#000"/><path d="M201.93 603.81V744.5" stroke="#fff" stroke-width="3.04" stroke-dasharray="3.04 3.04" stroke-dashoffset="3.04" fill="none"/><path d="M204.98 603.81V744.5" stroke="#fff" stroke-width="3.04" stroke-dasharray="3.04 3.04" stroke-dashoffset="0" fill="none"/><path d="M208.02 603.81V744.5" stroke="#fff" stroke-width="3.04" stroke-dasharray="3.04 3.04" stroke-dashoffset="3.04" fill="none"/><path d="M211.07 603.81V744.5" stroke="#fff" stroke-width="3.04" stroke-dasharray="3.04 3.04" stroke-dashoffset="0" fill="none"/>
<text x="206.5" y="598.47" font-size="9" text-anchor="middle" fill="#2a2a2a">a</text>
<path d="M228.5 621.25V616.25M225.07 616.25H231.93" stroke="#222" stroke-width="0.81" fill="none"/>
<rect x="221.1" y="621.25" width="14.8" height="123.25" fill="#000"/><path d="M228.5 625.39V744.5" stroke="#fff" stroke-width="11.57" stroke-dasharray="1.01 3.54" stroke-dashoffset="0" fill="none"/>
<text x="228.5" y="613.22" font-size="9" text-anchor="middle" fill="#2a2a2a">b</text>
<path d="M88.6 588.42V744.5H244.5" stroke="#000" stroke-width="1.65" fill="none"/>
<path d="M81.75 744.5H88.6" stroke="#000" stroke-width="1.65"/>
<text x="80" y="748.39" font-size="11.6" font-weight="bold" text-anchor="end">0</text>
<path d="M81.75 692.75H88.6" stroke="#000" stroke-width="1.65"/>
<text x="80" y="696.64" font-size="11.6" font-weight="bold" text-anchor="end">50</text>
<path d="M81.75 641H88.6" stroke="#000" stroke-width="1.65"/>
<text x="80" y="644.89" font-size="11.6" font-weight="bold" text-anchor="end">100</text>
<path d="M81.75 589.25H88.6" stroke="#000" stroke-width="1.65"/>
<text x="80" y="593.14" font-size="11.6" font-weight="bold" text-anchor="end">150</text>
<path d="M125.5 744.5V750.75" stroke="#000" stroke-width="1.65"/>
<text x="125.5" y="762.8" font-size="11.6" font-weight="bold" text-anchor="middle">d 21</text>
<path d="M206.5 744.5V750.75" stroke="#000" stroke-width="1.65"/>
<text x="206.5" y="762.8" font-size="11.6" font-weight="bold" text-anchor="middle">d 42</text>
<text transform="translate(55.4 666) rotate(-90)" font-size="12.75" font-weight="bold" text-anchor="middle">Crypt depth of ileal epithelium (μm)</text>
<text x="107.1" y="579" font-size="11.1" fill="#222"><tspan font-style="italic">P</tspan>=0.001</text>
<text x="194.5" y="578.8" font-size="11.2" font-style="italic" fill="#222">P</text>
<path d="M211.19 571.18L202.79 575.1L211.19 579.02" fill="none" stroke="#111" stroke-width="0.84" stroke-linejoin="miter"/>
<text x="210.29" y="578.8" font-size="11.2" fill="#222">0.001</text>
<rect x="282.2" y="596" width="17.2" height="8" fill="#000"/><path d="M284.64 597.57V602.43" stroke="#fff" stroke-width="1.76" stroke-dasharray="1.62 1.62" stroke-dashoffset="1.62" fill="none"/><path d="M286.4 597.57V602.43" stroke="#fff" stroke-width="1.76" stroke-dasharray="1.62 1.62" stroke-dashoffset="0" fill="none"/><path d="M288.16 597.57V602.43" stroke="#fff" stroke-width="1.76" stroke-dasharray="1.62 1.62" stroke-dashoffset="1.62" fill="none"/><path d="M289.92 597.57V602.43" stroke="#fff" stroke-width="1.76" stroke-dasharray="1.62 1.62" stroke-dashoffset="0" fill="none"/><path d="M291.68 597.57V602.43" stroke="#fff" stroke-width="1.76" stroke-dasharray="1.62 1.62" stroke-dashoffset="1.62" fill="none"/><path d="M293.44 597.57V602.43" stroke="#fff" stroke-width="1.76" stroke-dasharray="1.62 1.62" stroke-dashoffset="0" fill="none"/><path d="M295.2 597.57V602.43" stroke="#fff" stroke-width="1.76" stroke-dasharray="1.62 1.62" stroke-dashoffset="1.62" fill="none"/><path d="M296.96 597.57V602.43" stroke="#fff" stroke-width="1.76" stroke-dasharray="1.62 1.62" stroke-dashoffset="0" fill="none"/>
<text x="309" y="604" font-size="12.6">PC</text>
<rect x="282.2" y="616.7" width="17.2" height="8" fill="#000"/><path d="M285.17 618.27V623.13" stroke="#fff" stroke-width="2.81" stroke-dasharray="2.43 2.43" stroke-dashoffset="2.43" fill="none"/><path d="M287.99 618.27V623.13" stroke="#fff" stroke-width="2.81" stroke-dasharray="2.43 2.43" stroke-dashoffset="0" fill="none"/><path d="M290.8 618.27V623.13" stroke="#fff" stroke-width="2.81" stroke-dasharray="2.43 2.43" stroke-dashoffset="2.43" fill="none"/><path d="M293.61 618.27V623.13" stroke="#fff" stroke-width="2.81" stroke-dasharray="2.43 2.43" stroke-dashoffset="0" fill="none"/><path d="M296.43 618.27V623.13" stroke="#fff" stroke-width="2.81" stroke-dasharray="2.43 2.43" stroke-dashoffset="2.43" fill="none"/>
<text x="309" y="624.85" font-size="12.6">NC</text>
<rect x="282.2" y="637.4" width="17.2" height="8" fill="#000"/><path d="M290.8 641.54V643.83" stroke="#fff" stroke-width="13.77" stroke-dasharray="1.01 3.54" stroke-dashoffset="0" fill="none"/>
<text x="309" y="645.3" font-size="12.6">NC+BM</text>
</g>
<g id="pF">
<text x="393.7" y="551.8" font-size="17.1">F</text>
<path d="M498.9 637.1V632.5M494.97 632.5H502.83" stroke="#222" stroke-width="0.92" fill="none"/>
<rect x="490.4" y="637.1" width="17" height="116.7" fill="#000"/><path d="M492.78 638.6V753.8" stroke="#fff" stroke-width="1.75" stroke-dasharray="1.75 1.75" stroke-dashoffset="1.75" fill="none"/><path d="M494.53 638.6V753.8" stroke="#fff" stroke-width="1.75" stroke-dasharray="1.75 1.75" stroke-dashoffset="0" fill="none"/><path d="M496.28 638.6V753.8" stroke="#fff" stroke-width="1.75" stroke-dasharray="1.75 1.75" stroke-dashoffset="1.75" fill="none"/><path d="M498.03 638.6V753.8" stroke="#fff" stroke-width="1.75" stroke-dasharray="1.75 1.75" stroke-dashoffset="0" fill="none"/><path d="M499.77 638.6V753.8" stroke="#fff" stroke-width="1.75" stroke-dasharray="1.75 1.75" stroke-dashoffset="1.75" fill="none"/><path d="M501.52 638.6V753.8" stroke="#fff" stroke-width="1.75" stroke-dasharray="1.75 1.75" stroke-dashoffset="0" fill="none"/><path d="M503.27 638.6V753.8" stroke="#fff" stroke-width="1.75" stroke-dasharray="1.75 1.75" stroke-dashoffset="1.75" fill="none"/><path d="M505.02 638.6V753.8" stroke="#fff" stroke-width="1.75" stroke-dasharray="1.75 1.75" stroke-dashoffset="0" fill="none"/>
<text x="498.9" y="629.03" font-size="10.2" text-anchor="middle" fill="#2a2a2a">a</text>
<path d="M524.3 664.4V661.6M520.37 661.6H528.23" stroke="#222" stroke-width="0.92" fill="none"/>
<rect x="515.8" y="664.4" width="17" height="89.4" fill="#000"/><path d="M519.05 665.9V753.8" stroke="#fff" stroke-width="3.5" stroke-dasharray="3.5 3.5" stroke-dashoffset="3.5" fill="none"/><path d="M522.55 665.9V753.8" stroke="#fff" stroke-width="3.5" stroke-dasharray="3.5 3.5" stroke-dashoffset="0" fill="none"/><path d="M526.05 665.9V753.8" stroke="#fff" stroke-width="3.5" stroke-dasharray="3.5 3.5" stroke-dashoffset="3.5" fill="none"/><path d="M529.55 665.9V753.8" stroke="#fff" stroke-width="3.5" stroke-dasharray="3.5 3.5" stroke-dashoffset="0" fill="none"/>
<text x="524.3" y="658.13" font-size="10.2" text-anchor="middle" fill="#2a2a2a">b</text>
<path d="M549.8 630.6V626.25M545.87 626.25H553.73" stroke="#222" stroke-width="0.92" fill="none"/>
<rect x="541.3" y="630.6" width="17" height="123.2" fill="#000"/><path d="M549.8 635.34V753.8" stroke="#fff" stroke-width="13.3" stroke-dasharray="1.16 4.04" stroke-dashoffset="0" fill="none"/>
<text x="549.8" y="622.78" font-size="10.2" text-anchor="middle" fill="#2a2a2a">a</text>
<path d="M592.4 630V626.5M588.47 626.5H596.33" stroke="#222" stroke-width="0.92" fill="none"/>
<rect x="583.9" y="630" width="17" height="123.8" fill="#000"/><path d="M586.28 631.5V753.8" stroke="#fff" stroke-width="1.75" stroke-dasharray="1.75 1.75" stroke-dashoffset="1.75" fill="none"/><path d="M588.03 631.5V753.8" stroke="#fff" stroke-width="1.75" stroke-dasharray="1.75 1.75" stroke-dashoffset="0" fill="none"/><path d="M589.78 631.5V753.8" stroke="#fff" stroke-width="1.75" stroke-dasharray="1.75 1.75" stroke-dashoffset="1.75" fill="none"/><path d="M591.53 631.5V753.8" stroke="#fff" stroke-width="1.75" stroke-dasharray="1.75 1.75" stroke-dashoffset="0" fill="none"/><path d="M593.27 631.5V753.8" stroke="#fff" stroke-width="1.75" stroke-dasharray="1.75 1.75" stroke-dashoffset="1.75" fill="none"/><path d="M595.02 631.5V753.8" stroke="#fff" stroke-width="1.75" stroke-dasharray="1.75 1.75" stroke-dashoffset="0" fill="none"/><path d="M596.77 631.5V753.8" stroke="#fff" stroke-width="1.75" stroke-dasharray="1.75 1.75" stroke-dashoffset="1.75" fill="none"/><path d="M598.52 631.5V753.8" stroke="#fff" stroke-width="1.75" stroke-dasharray="1.75 1.75" stroke-dashoffset="0" fill="none"/>
<text x="592.4" y="623.03" font-size="10.2" text-anchor="middle" fill="#2a2a2a">b</text>
<path d="M617.6 665.6V663.4M613.67 663.4H621.53" stroke="#222" stroke-width="0.92" fill="none"/>
<rect x="609.1" y="665.6" width="17" height="88.2" fill="#000"/><path d="M612.35 667.1V753.8" stroke="#fff" stroke-width="3.5" stroke-dasharray="3.5 3.5" stroke-dashoffset="3.5" fill="none"/><path d="M615.85 667.1V753.8" stroke="#fff" stroke-width="3.5" stroke-dasharray="3.5 3.5" stroke-dashoffset="0" fill="none"/><path d="M619.35 667.1V753.8" stroke="#fff" stroke-width="3.5" stroke-dasharray="3.5 3.5" stroke-dashoffset="3.5" fill="none"/><path d="M622.85 667.1V753.8" stroke="#fff" stroke-width="3.5" stroke-dasharray="3.5 3.5" stroke-dashoffset="0" fill="none"/>
<text x="617.6" y="659.93" font-size="10.2" text-anchor="middle" fill="#2a2a2a">c</text>
<path d="M643 617.25V615.4M639.07 615.4H646.93" stroke="#222" stroke-width="0.92" fill="none"/>
<rect x="634.5" y="617.25" width="17" height="136.55" fill="#000"/><path d="M643 621.99V753.8" stroke="#fff" stroke-width="13.3" stroke-dasharray="1.16 4.04" stroke-dashoffset="0" fill="none"/>
<text x="643" y="611.93" font-size="10.2" text-anchor="middle" fill="#2a2a2a">a</text>
<path d="M481.9 581.32V753.8H661.5" stroke="#000" stroke-width="1.95" fill="none"/>
<path d="M474.5 753.8H481.9" stroke="#000" stroke-width="1.95"/>
<text x="472" y="758.42" font-size="13.8" font-weight="bold" text-anchor="end">0</text>
<path d="M474.5 719.5H481.9" stroke="#000" stroke-width="1.95"/>
<text x="472" y="724.12" font-size="13.8" font-weight="bold" text-anchor="end">2</text>
<path d="M474.5 685.2H481.9" stroke="#000" stroke-width="1.95"/>
<text x="472" y="689.82" font-size="13.8" font-weight="bold" text-anchor="end">4</text>
<path d="M474.5 650.9H481.9" stroke="#000" stroke-width="1.95"/>
<text x="472" y="655.52" font-size="13.8" font-weight="bold" text-anchor="end">6</text>
<path d="M474.5 616.6H481.9" stroke="#000" stroke-width="1.95"/>
<text x="472" y="621.22" font-size="13.8" font-weight="bold" text-anchor="end">8</text>
<path d="M474.5 582.3H481.9" stroke="#000" stroke-width="1.95"/>
<text x="472" y="586.92" font-size="13.8" font-weight="bold" text-anchor="end">10</text>
<path d="M524 753.8V760.75" stroke="#000" stroke-width="1.95"/>
<text x="524" y="774" font-size="13.3" font-weight="bold" text-anchor="middle">d 21</text>
<path d="M617.25 753.8V760.75" stroke="#000" stroke-width="1.95"/>
<text x="617.25" y="774" font-size="13.3" font-weight="bold" text-anchor="middle">d 42</text>
<text transform="translate(449.8 668.2) rotate(-90)" font-size="14.3" font-weight="bold" text-anchor="middle">V:C of the ileal epithelium</text>
<text x="504.1" y="603.9" font-size="12.3" font-style="italic" fill="#222">P</text>
<path d="M522.43 595.54L513.2 599.84L522.43 604.15" fill="none" stroke="#111" stroke-width="0.92" stroke-linejoin="miter"/>
<text x="524.03" y="603.9" font-size="12.3" fill="#222">0.001</text>
<text x="595.1" y="596.4" font-size="12.3" font-style="italic" fill="#222">P</text>
<path d="M613.43 588.04L604.2 592.34L613.43 596.65" fill="none" stroke="#111" stroke-width="0.92" stroke-linejoin="miter"/>
<text x="615.03" y="596.4" font-size="12.3" fill="#222">0.001</text>
<rect x="704.7" y="589.3" width="19.4" height="8.9" fill="#000"/><path d="M707.48 591.09V596.41" stroke="#fff" stroke-width="1.98" stroke-dasharray="1.77 1.77" stroke-dashoffset="1.77" fill="none"/><path d="M709.46 591.09V596.41" stroke="#fff" stroke-width="1.98" stroke-dasharray="1.77 1.77" stroke-dashoffset="0" fill="none"/><path d="M711.43 591.09V596.41" stroke="#fff" stroke-width="1.98" stroke-dasharray="1.77 1.77" stroke-dashoffset="1.77" fill="none"/><path d="M713.41 591.09V596.41" stroke="#fff" stroke-width="1.98" stroke-dasharray="1.77 1.77" stroke-dashoffset="0" fill="none"/><path d="M715.39 591.09V596.41" stroke="#fff" stroke-width="1.98" stroke-dasharray="1.77 1.77" stroke-dashoffset="1.77" fill="none"/><path d="M717.37 591.09V596.41" stroke="#fff" stroke-width="1.98" stroke-dasharray="1.77 1.77" stroke-dashoffset="0" fill="none"/><path d="M719.34 591.09V596.41" stroke="#fff" stroke-width="1.98" stroke-dasharray="1.77 1.77" stroke-dashoffset="1.77" fill="none"/><path d="M721.32 591.09V596.41" stroke="#fff" stroke-width="1.98" stroke-dasharray="1.77 1.77" stroke-dashoffset="0" fill="none"/>
<text x="735.4" y="598" font-size="14.4">PC</text>
<rect x="704.7" y="612.4" width="19.4" height="8.9" fill="#000"/><path d="M708.07 614.19V619.51" stroke="#fff" stroke-width="3.16" stroke-dasharray="2.66 2.66" stroke-dashoffset="2.66" fill="none"/><path d="M711.24 614.19V619.51" stroke="#fff" stroke-width="3.16" stroke-dasharray="2.66 2.66" stroke-dashoffset="0" fill="none"/><path d="M714.4 614.19V619.51" stroke="#fff" stroke-width="3.16" stroke-dasharray="2.66 2.66" stroke-dashoffset="2.66" fill="none"/><path d="M717.56 614.19V619.51" stroke="#fff" stroke-width="3.16" stroke-dasharray="2.66 2.66" stroke-dashoffset="0" fill="none"/><path d="M720.73 614.19V619.51" stroke="#fff" stroke-width="3.16" stroke-dasharray="2.66 2.66" stroke-dashoffset="2.66" fill="none"/>
<text x="735.4" y="621.3" font-size="14.4">NC</text>
<rect x="704.7" y="635.3" width="19.4" height="8.9" fill="#000"/><path d="M714.4 640.04V642.41" stroke="#fff" stroke-width="15.47" stroke-dasharray="1.16 4.04" stroke-dashoffset="0" fill="none"/>
<text x="735.4" y="644" font-size="14.4">NC+BM</text>
</g>
</svg>
</body></html>
